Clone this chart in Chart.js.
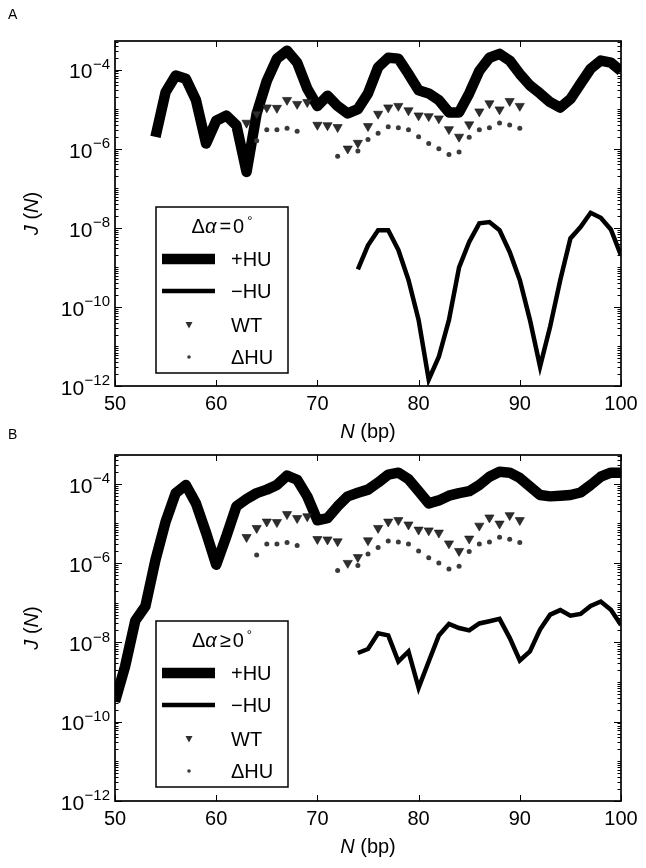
<!DOCTYPE html>
<html>
<head>
<meta charset="utf-8">
<script src="https://cdn.jsdelivr.net/npm/chart.js@4.4.1/dist/chart.umd.min.js"></script>
<style>
  html, body { margin: 0; padding: 0; background: #fff; }
  #wrap { position: relative; width: 646px; height: 868px; }
  canvas { position: absolute; left: 0; display: block; }
  #chartA { top: 0; }
  #chartB { top: 420px; }
</style>
</head>
<body>
<div id="wrap">
  <canvas id="chartA" width="646" height="460"></canvas>
  <canvas id="chartB" width="646" height="448"></canvas>
</div>
<script>
// N (bp), 50..100
const bp = [50, 51, 52, 53, 54, 55, 56, 57, 58, 59, 60, 61, 62, 63, 64, 65, 66, 67, 68, 69, 70,
            71, 72, 73, 74, 75, 76, 77, 78, 79, 80, 81, 82, 83, 84, 85, 86, 87, 88, 89, 90,
            91, 92, 93, 94, 95, 96, 97, 98, 99, 100];

// panel A, Δα = 0°
// +HU, N = 54..100
const plusHU_A = [2.0e-6, 2.7e-5, 7.1e-5, 5.9e-5, 1.7e-5, 1.35e-6, 5.1e-6, 6.9e-6, 3.9e-6, 2.6e-7,
                  7.8e-6, 5.2e-5, 1.9e-4, 3.0e-4, 1.5e-4, 3.3e-5, 1.2e-5, 2.2e-5, 1.2e-5, 7.8e-6,
                  1.0e-5, 2.5e-5, 1.15e-4, 2.0e-4, 1.9e-4, 7.8e-5, 3.0e-5, 2.5e-5, 1.7e-5, 8.3e-6,
                  8.3e-6, 2.5e-5, 9.3e-5, 2.0e-4, 2.5e-4, 1.7e-4, 7.8e-5, 4.0e-5, 2.5e-5, 1.5e-5,
                  1.1e-5, 1.8e-5, 4.4e-5, 1.05e-4, 1.7e-4, 1.5e-4, 9.3e-5];
// -HU, N = 74..100
const minusHU_A = [8.9e-10, 3.6e-9, 8.7e-9, 8.7e-9, 2.75e-9, 4.8e-10, 4.7e-11, 1.45e-12, 5.5e-12,
                   4.7e-11, 1.0e-9, 4.4e-9, 1.3e-8, 1.4e-8, 8.7e-9, 2.45e-9, 4.8e-10, 4.7e-11,
                   3.1e-12, 3.2e-11, 4.8e-10, 5.4e-9, 1.05e-8, 2.4e-8, 1.8e-8, 9.1e-9, 2.0e-9];

// panel B, Δα ≥ 0°
// +HU, N = 50..100
const plusHU_B = [3.2e-10, 2.5e-9, 3.5e-8, 8.1e-8, 1.2e-6, 1.1e-5, 5.8e-5, 9.3e-5, 3.2e-5, 5.8e-6,
                  9.1e-7, 4.7e-6, 2.7e-5, 4.1e-5, 5.8e-5, 7.1e-5, 9.3e-5, 1.6e-4, 1.26e-4, 4.8e-5,
                  1.2e-5, 1.35e-5, 2.7e-5, 4.8e-5, 5.9e-5, 7.1e-5, 1.07e-4, 1.7e-4, 1.9e-4, 1.3e-4,
                  6.5e-5, 3.2e-5, 3.8e-5, 5.0e-5, 5.8e-5, 6.5e-5, 9.3e-5, 1.5e-4, 2.0e-4, 1.9e-4,
                  1.4e-4, 8.5e-5, 5.2e-5, 4.8e-5, 5.0e-5, 5.2e-5, 6.0e-5, 9.3e-5, 1.5e-4, 1.9e-4,
                  1.9e-4];
// -HU, N = 74..100
const minusHU_B = [5.4e-9, 6.8e-9, 1.7e-8, 1.5e-8, 3.3e-9, 5.9e-9, 7.1e-10, 3.3e-9, 1.5e-8,
                   2.9e-8, 2.3e-8, 2.0e-8, 3.0e-8, 3.4e-8, 3.9e-8, 1.3e-8, 3.5e-9, 5.9e-9,
                   2.1e-8, 5.0e-8, 6.5e-8, 4.7e-8, 5.2e-8, 8.3e-8, 1.07e-7, 6.6e-8, 2.75e-8];

// measured, same in both panels
// WT, N = 63..90
const wtJ = [4.5e-6, 7.6e-6, 1.1e-5, 1.07e-5, 1.7e-5, 1.35e-5, 1.5e-5, 4.0e-6, 3.9e-6, 3.5e-6,
             1.0e-6, 1.4e-6, 3.7e-6, 7.6e-6, 1.1e-5, 1.2e-5, 9.3e-6, 6.9e-6, 6.6e-6, 5.8e-6,
             3.1e-6, 2.0e-6, 4.1e-6, 8.7e-6, 1.4e-5, 9.8e-6, 1.6e-5, 1.2e-5];
// ΔHU, N = 64..90
const dHUJ = [1.6e-6, 3.0e-6, 3.0e-6, 3.3e-6, 2.75e-6, null, null, null, 6.5e-7, null,
              8.7e-7, 1.7e-6, 2.45e-6, 3.6e-6, 3.4e-6, 3.0e-6, 2.0e-6, 1.35e-6, 1.0e-6, 7.1e-7,
              8.3e-7, 1.95e-6, 3.0e-6, 3.4e-6, 4.5e-6, 4.0e-6, 3.3e-6];

const xTicks = [50, 60, 70, 80, 90, 100];
const yTickExps = [-4, -6, -8, -10, -12];

const FONT = '"Liberation Sans", Arial, Helvetica, sans-serif';

// pair a series with its N values, starting at N = first
const pts = (first, vals) => vals.map((v, i) => ({ x: bp[bp.indexOf(first) + i], y: v }));

// draw a row of text pieces with different fonts
const drawRuns = (ctx, runs, x, y, align) => {
    let w = 0;
    runs.forEach(r => { ctx.font = r.font; r.w = ctx.measureText(r.t).width; w += r.w + (r.gap || 0); });
    let cx = align === 'center' ? x - w / 2 : align === 'right' ? x - w : x;
    ctx.textAlign = 'left';
    ctx.textBaseline = 'middle';
    runs.forEach(r => {
        ctx.font = r.font;
        ctx.fillText(r.t, cx, y + (r.dy || 0));
        cx += r.w + (r.gap || 0);
    });
};

const framePlugin = {
    id: 'frame',
    afterDraw(chart, args, opts) {
        const { ctx, chartArea: a, scales: { x, y } } = chart;
        ctx.save();
        ctx.fillStyle = '#000';
        ctx.strokeStyle = '#000';

        const seg = (x1, y1, x2, y2) => { ctx.beginPath(); ctx.moveTo(x1, y1); ctx.lineTo(x2, y2); ctx.stroke(); };

        // tick marks on all four sides, pointing in
        ctx.lineWidth = 1;
        xTicks.forEach(v => {
            const px = Math.round(x.getPixelForValue(v)) + 0.5;
            seg(px, a.bottom, px, a.bottom - 6);
            seg(px, a.top, px, a.top + 6);
        });
        for (let e = -12; e <= -4; e++) {
            for (let d = 1; d <= 9; d++) {
                const v = d * Math.pow(10, e);
                if (v > y.max) continue;
                const py = Math.round(y.getPixelForValue(v)) + 0.5;
                const len = (d === 1 && e % 2 === 0) ? 7 : 3.5;
                seg(a.left, py, a.left + len, py);
                seg(a.right, py, a.right - len, py);
            }
        }

        // axes frame
        ctx.lineWidth = 1.7;
        ctx.strokeRect(a.left, a.top, a.right - a.left, a.bottom - a.top);

        // y tick labels 10^n
        yTickExps.forEach(e => {
            const py = y.getPixelForValue(Math.pow(10, e));
            ctx.font = '15px ' + FONT;
            const expTxt = '\u2212' + Math.abs(e);
            const ew = ctx.measureText(expTxt).width;
            const ex = a.left - 5 - ew;
            ctx.textAlign = 'left';
            ctx.textBaseline = 'middle';
            ctx.fillText(expTxt, ex, py - 5);
            ctx.font = '21px ' + FONT;
            ctx.textAlign = 'right';
            ctx.fillText('10', ex - 0.5, py + 3);
        });

        // axis titles
        const it = 'italic 20px ' + FONT, rg = '20px ' + FONT;
        drawRuns(ctx, [{ t: 'N', font: it }, { t: ' (bp)', font: rg }], (a.left + a.right) / 2, a.bottom + 46, 'center');
        ctx.save();
        ctx.translate(32, (a.top + a.bottom) / 2);
        ctx.rotate(-Math.PI / 2);
        drawRuns(ctx, [{ t: 'J', font: it }, { t: ' (', font: rg }, { t: 'N', font: it }, { t: ')', font: rg }], 0, 0, 'center');
        ctx.restore();

        // panel letter
        ctx.font = '14px ' + FONT;
        ctx.textAlign = 'left';
        ctx.textBaseline = 'middle';
        ctx.fillText(opts.letter, 8, 15);

        // legend box
        const bx = a.left + 41, by = a.top + 166, bw = 132, bh = 166;
        ctx.fillStyle = '#fff';
        ctx.fillRect(bx, by, bw, bh);
        ctx.lineWidth = 1.5;
        ctx.strokeRect(bx, by, bw, bh);
        ctx.fillStyle = '#000';
        const lf = '20px ' + FONT;
        drawRuns(ctx, [
            { t: '\u0394', font: lf },
            { t: '\u03b1', font: 'italic 20px ' + FONT, gap: 3 },
            { t: opts.rel, font: lf, gap: 2 },
            { t: '0', font: lf, gap: 3 },
            { t: '\u00b0', font: '13px ' + FONT, dy: -6 }
        ], bx + bw / 2, by + 20, 'center');

        const ds = chart.data.datasets;
        const rows = [52, 84, 118, 150];
        ds.forEach((d, i) => {
            const ry = by + rows[i];
            if (d.showLine !== false) {
                ctx.lineWidth = d.borderWidth;
                ctx.strokeStyle = d.borderColor;
                seg(bx + 6, ry, bx + 59, ry);
            } else if (d.pointStyle === 'triangle') {
                ctx.fillStyle = d.pointBackgroundColor;
                ctx.beginPath();
                ctx.moveTo(bx + 29.5, ry - 3);
                ctx.lineTo(bx + 36.5, ry - 3);
                ctx.lineTo(bx + 33, ry + 3.5);
                ctx.closePath();
                ctx.fill();
            } else {
                ctx.fillStyle = d.pointBackgroundColor;
                ctx.beginPath();
                ctx.arc(bx + 33, ry, 1.8, 0, Math.PI * 2);
                ctx.fill();
            }
            ctx.fillStyle = '#000';
            ctx.font = lf;
            ctx.textAlign = 'left';
            ctx.textBaseline = 'middle';
            ctx.fillText(d.label, bx + 75, ry + 1);
        });

        ctx.restore();
    }
};

const makeChart = (id, plus, plusFirst, minus, letter, rel, padTop, padBottom) => {
    const ctx = document.getElementById(id).getContext('2d');
    return new Chart(ctx, {
        type: 'line',
        data: {
            datasets: [
                {
                    label: '+HU', data: pts(plusFirst, plus),
                    borderColor: '#000', borderWidth: 10.5, pointRadius: 0,
                    borderJoinStyle: 'round', order: 4, clip: 0
                },
                {
                    label: '\u2212HU', data: pts(74, minus),
                    borderColor: '#000', borderWidth: 4.5, pointRadius: 0,
                    order: 3, clip: 0
                },
                {
                    label: 'WT', data: pts(63, wtJ), showLine: false,
                    pointStyle: 'triangle', pointRotation: 180, pointRadius: 5.3,
                    pointBackgroundColor: '#2e2e2e', pointBorderColor: '#111', pointBorderWidth: 0.6,
                    order: 2
                },
                {
                    label: '\u0394HU', data: pts(64, dHUJ), showLine: false,
                    pointStyle: 'circle', pointRadius: 2.5,
                    pointBackgroundColor: '#3a3a3a', pointBorderWidth: 0,
                    order: 1
                }
            ]
        },
        options: {
            responsive: false,
            animation: false,
            events: [],
            layout: { padding: { top: padTop, right: 25, left: 0, bottom: padBottom } },
            plugins: {
                legend: { display: false },
                tooltip: { enabled: false },
                frame: { letter, rel }
            },
            scales: {
                x: {
                    type: 'linear', min: 50, max: 100,
                    ticks: { stepSize: 10, color: '#000', font: { family: FONT, size: 20 }, padding: 6, maxRotation: 0 },
                    grid: { display: false, drawTicks: false },
                    border: { display: false },
                    afterFit: s => { s.height = 48; }
                },
                y: {
                    type: 'logarithmic', min: 1e-12, max: 5.3e-4,
                    ticks: { display: false },
                    grid: { display: false, drawTicks: false },
                    border: { display: false },
                    afterFit: s => { s.width = 115; }
                }
            }
        },
        plugins: [framePlugin]
    });
};

makeChart('chartA', plusHU_A, 54, minusHU_A, 'A', '=', 41, 26);
makeChart('chartB', plusHU_B, 50, minusHU_B, 'B', '\u2265', 35, 19);
</script>
</body>
</html>
